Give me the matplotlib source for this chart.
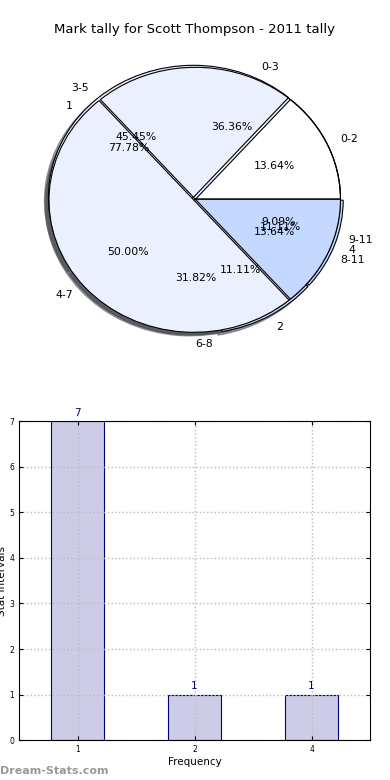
import numpy as np
import matplotlib.pyplot as plt

# tally data
title = 'Mark tally for Scott Thompson - 2011 tally'
freq_labels = ['1', '2', '4']
freq_counts = [7, 1, 1]
q_labels = ['0-2', '3-5', '6-8', '9-11']
q_counts = [3, 10, 7, 2]
r_labels = ['0-3', '4-7', '8-11']
r_counts = [8, 11, 3]

light = '#eaf0fd'
mid = '#c5d8ff'

fig = plt.figure(figsize=(3.9, 7.8), dpi=100)
fig.text(0.5, 0.962, title, ha='center', va='center', fontsize=9.5)

# pie: three tallies drawn on top of each other
ax1 = fig.add_axes([0.036, 0.533, 0.93, 0.423])
kw = dict(autopct='%1.2f%%', shadow=True, startangle=0,
          wedgeprops=dict(linewidth=0.8, edgecolor='black'),
          textprops=dict(fontsize=7.8))
ax1.pie(freq_counts, labels=freq_labels, colors=[light, mid, mid],
        explode=[0, 0.02, 0.02], **kw)
ax1.pie(q_counts, labels=q_labels, colors=['white', light, light, mid],
        explode=[0, 0.02, 0, 0], **kw)
ax1.pie(r_counts, labels=r_labels, colors=['none', light, mid],
        explode=[0, 0.012, 0], **kw)
ax1.set_aspect('auto')
ax1.set_xlim(-1.25, 1.25)
ax1.set_ylim(-1.25, 1.25)

# bar chart
ax2 = fig.add_axes([0.049, 0.051, 0.9, 0.409])
x = np.arange(len(freq_labels))
ax2.bar(x, freq_counts, width=0.45, color='#ccccE6', edgecolor='navy', linewidth=0.8)
for xi, v in zip(x, freq_counts):
    ax2.text(xi, v + 0.08, str(v), ha='center', va='bottom', color='navy', fontsize=7.5)
ax2.set_xlim(-0.5, 2.5)
ax2.set_ylim(0, 7)
ax2.set_xticks(x)
ax2.set_xticklabels(freq_labels)
ax2.set_yticks(range(8))
ax2.tick_params(labelsize=5.5, direction='in', top=True, right=True, length=3)
ax2.set_axisbelow(False)
ax2.grid(True, linestyle=':', color='#bbbbbb', linewidth=1.0)
for sp in ax2.spines.values():
    sp.set_zorder(3)
ax2.set_xlabel('Frequency', fontsize=7.5, labelpad=2)
ax2.set_ylabel('Stat Intervals', fontsize=7.5, labelpad=2)

fig.text(0.0, 0.012, 'Dream-Stats.com', color='#999999', fontsize=8, fontweight='bold', ha='left', va='center')

fig.savefig('out.png', dpi=100)
